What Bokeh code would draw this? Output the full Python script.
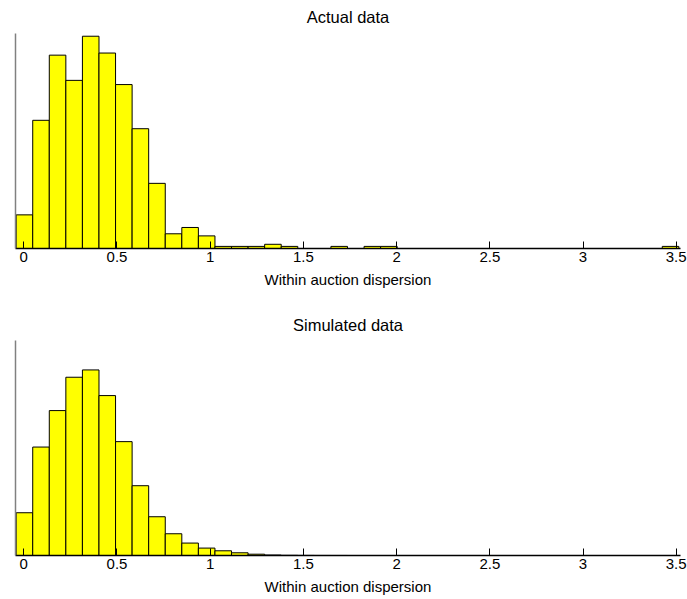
import numpy as np
from bokeh.plotting import figure
from bokeh.layouts import column
from bokeh.models import Range1d, FixedTicker, LinearAxis, Title
from bokeh.embed import file_html
from bokeh.resources import INLINE

# Histogram bins shared by both panels (40 bins)
bin_lo = -0.041
bin_hi = 3.514
n_bins = 40

# Counts per bin, observed auctions
actual_counts = [16, 61, 92, 80, 101, 93, 78, 57, 31, 7,
                 10, 6, 1, 1, 1, 2, 1, 0, 0, 1,
                 0, 1, 1, 0, 0, 0, 0, 0, 0, 0,
                 0, 0, 0, 0, 0, 0, 0, 0, 0, 1]

# Counts per bin, simulated auctions
simulated_counts = [1989, 5044, 6740, 8291, 8631, 7438, 5296, 3246, 1803, 1011,
                    578, 345, 219, 126, 61, 23, 9, 4, 2, 1,
                    0, 0, 0, 0, 0, 0, 0, 0, 0, 0,
                    0, 0, 0, 0, 0, 0, 0, 0, 0, 0]

tick_values = [0, 0.5, 1, 1.5, 2, 2.5, 3, 3.5]
tick_labels = ["0", "0.5", "1", "1.5", "2", "2.5", "3", "3.5"]

panel_titles = ["Actual data", "Simulated data"]
x_label = "Within auction dispersion"

FONT = "Liberation Sans"
X_LO, X_HI = -0.0445, 3.523

edges = np.linspace(bin_lo, bin_hi, n_bins + 1)


def hist_panel(counts, title, height, top_border, bottom_border, y_top,
               title_valign, title_gap):
    p = figure(width=687, height=height, output_backend="svg",
               toolbar_location=None, tools="",
               x_range=Range1d(X_LO, X_HI), y_range=Range1d(0, y_top),
               min_border_left=15, min_border_right=7,
               min_border_top=top_border, min_border_bottom=bottom_border,
               x_axis_location=None, y_axis_location=None)
    p.outline_line_color = None
    p.xgrid.visible = False
    p.ygrid.visible = False
    p.background_fill_color = "white"
    p.border_fill_color = "white"

    p.add_layout(Title(text=title, align="center", vertical_align=title_valign,
                       standoff=title_gap, text_font=FONT,
                       text_font_size="16.5px", text_font_style="normal",
                       text_color="black"), "above")

    p.quad(left=edges[:-1], right=edges[1:], bottom=0, top=counts,
           fill_color="#FFFF00", line_color="black", line_width=1)

    xa = LinearAxis(ticker=FixedTicker(ticks=tick_values),
                    major_label_overrides={v: s for v, s in zip(tick_values, tick_labels)})
    xa.axis_label = x_label
    xa.axis_label_text_font = FONT
    xa.axis_label_text_font_size = "15px"
    xa.axis_label_text_font_style = "normal"
    xa.axis_label_text_color = "black"
    xa.axis_label_standoff = 6
    xa.major_label_text_font = FONT
    xa.major_label_text_font_size = "15px"
    xa.major_label_text_color = "black"
    xa.major_label_standoff = 3
    xa.major_tick_in = 7
    xa.major_tick_out = 0
    xa.minor_tick_in = 0
    xa.minor_tick_out = 0
    xa.axis_line_color = "black"
    xa.axis_line_width = 1.5
    xa.major_tick_line_color = "black"
    p.add_layout(xa, "below")

    ya = LinearAxis(ticker=FixedTicker(ticks=[]))
    ya.axis_line_color = "#808080"
    ya.axis_line_width = 1.5
    ya.major_tick_in = 0
    ya.major_tick_out = 0
    ya.minor_tick_in = 0
    ya.minor_tick_out = 0
    ya.major_label_text_font_size = "0px"
    p.add_layout(ya, "left")
    return p


p1 = hist_panel(actual_counts, panel_titles[0], 300, 33, 52, 102.3, "top", 11)
p2 = hist_panel(simulated_counts, panel_titles[1], 299, 40, 44, 10000, "bottom", 14)

p = column(p1, p2, spacing=0)

open("out.html", "w").write(file_html(p, INLINE))
